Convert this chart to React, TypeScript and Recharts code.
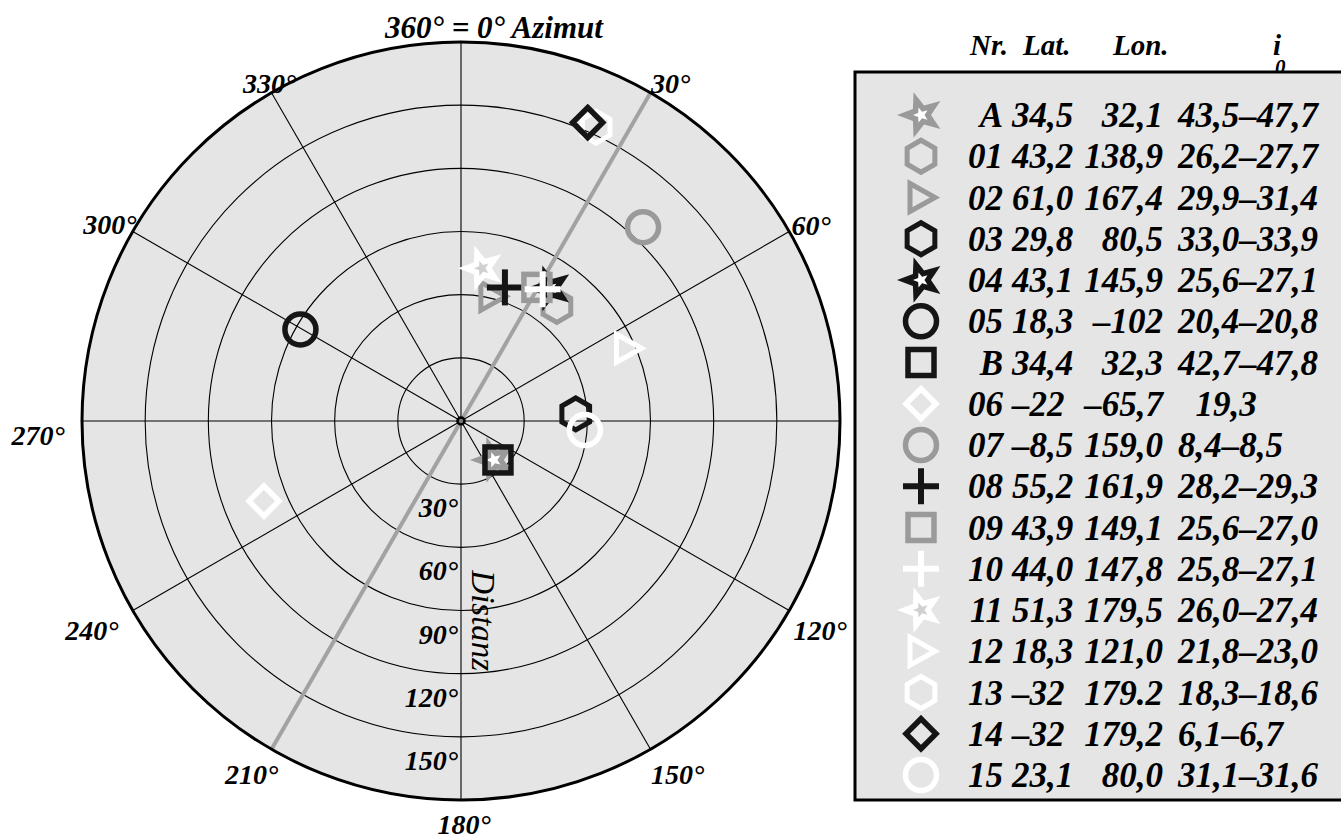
import React from 'react'
import {
  RadarChart,
  PolarGrid,
  PolarAngleAxis,
  PolarRadiusAxis,
  Radar,
} from 'recharts'

// station list (legend order = drawing order)
const ids = ['A', '01', '02', '03', '04', '05', 'B', '06', '07', '08', '09', '10', '11', '12', '13', '14', '15']
const lat = ['34,5', '43,2', '61,0', '29,8', '43,1', '18,3', '34,4', '–22', '–8,5', '55,2', '43,9', '44,0', '51,3', '18,3', '–32', '–32', '23,1']
const lon = ['32,1', '138,9', '167,4', '80,5', '145,9', '–102', '32,3', '–65,7', '159,0', '161,9', '149,1', '147,8', '179,5', '121,0', '179.2', '179,2', '80,0']
const incl = ['43,5–47,7', '26,2–27,7', '29,9–31,4', '33,0–33,9', '25,6–27,1', '20,4–20,8', '42,7–47,8', '\u200719,3', '8,4–8,5', '28,2–29,3', '25,6–27,0', '25,8–27,1', '26,0–27,4', '21,8–23,0', '18,3–18,6', '6,1–6,7', '31,1–31,6']

// azimuth (deg, clockwise from north) and distance (deg)
const azimuth = [139.8, 39.9, 13.9, 86.5, 33.8, 299.7, 136.5, 247.9, 43.2, 18.2, 29.6, 31.8, 7.8, 66.4, 24.7, 23.0, 94.2]
const distance = [24.2, 71.0, 61.0, 54.6, 75.8, 87.8, 25.5, 101.0, 126.3, 66.8, 73.0, 73.6, 73.2, 86.3, 153.6, 154.0, 59.0]

const shapes = ['star', 'hexagon', 'triangle', 'hexagon', 'star', 'circle', 'square', 'diamond', 'circle', 'plus', 'square', 'plus', 'star', 'triangle', 'hexagon', 'diamond', 'circle']
const tones = ['gray', 'gray', 'gray', 'black', 'black', 'black', 'black', 'white', 'gray', 'black', 'gray', 'white', 'white', 'white', 'white', 'black', 'white']

const azTicks = [0, 30, 60, 90, 120, 150, 180, 210, 240, 270, 300, 330]
const distTicks = [0, 30, 60, 90, 120, 150, 180]

const points = ids.map((id, i) => ({
  id,
  az: azimuth[i],
  dist: distance[i],
  shape: shapes[i],
  tone: tones[i],
}))

const CX = 461
const CY = 421
const R = 379
const FONT = "'Liberation Serif', 'DejaVu Serif', serif"

const COLOR: Record<string, string> = {
  black: '#151515',
  gray: '#9a9a9a',
  white: '#ffffff',
}

// label centre offsets from the rim point of each azimuth tick
// (90° sits under the legend box in the original, so it has no label)
const azLabelOffset: Record<number, [number, number]> = {
  0: [33, -15],
  30: [20, -10],
  60: [22, -6],
  120: [31, 20],
  150: [27, 25],
  180: [3, 24],
  210: [-20, 25],
  240: [-41, 20],
  270: [-44, 14],
  300: [-23, -7],
  330: [-2, -10],
}

const starPoints = (x: number, y: number, ro: number, ri: number) => {
  const pts: string[] = []
  for (let k = 0; k < 10; k++) {
    const a = ((180 + k * 36) * Math.PI) / 180
    const rr = k % 2 === 0 ? ro : ri
    pts.push(`${x + rr * Math.cos(a)},${y + rr * Math.sin(a)}`)
  }
  return pts.join(' ')
}

const Marker = ({ shape, tone, x, y }: { shape: string; tone: string; x: number; y: number }) => {
  const c = COLOR[tone]
  const sw = 5.5
  if (shape === 'star') {
    return (
      <g>
        <polygon points={starPoints(x, y, 24, 10)} fill={c} />
        <polygon points={starPoints(x, y, 8, 3.5)} fill={tone === 'white' ? '#d0d0d0' : '#ffffff'} />
      </g>
    )
  }
  if (shape === 'hexagon') {
    const pts = [0, 1, 2, 3, 4, 5]
      .map((k) => {
        const a = ((-90 + k * 60) * Math.PI) / 180
        return `${x + 16 * Math.cos(a)},${y + 16 * Math.sin(a)}`
      })
      .join(' ')
    return <polygon points={pts} fill='none' stroke={c} strokeWidth={5} />
  }
  if (shape === 'triangle') {
    return (
      <polygon
        points={`${x - 11},${y - 14} ${x + 14},${y} ${x - 11},${y + 14}`}
        fill='none'
        stroke={c}
        strokeWidth={5}
      />
    )
  }
  if (shape === 'circle') {
    return <circle cx={x} cy={y} r={15.5} fill='none' stroke={c} strokeWidth={sw} />
  }
  if (shape === 'square') {
    return <rect x={x - 13} y={y - 13} width={26} height={26} fill='none' stroke={c} strokeWidth={sw} />
  }
  if (shape === 'diamond') {
    return (
      <polygon
        points={`${x},${y - 15} ${x + 15},${y} ${x},${y + 15} ${x - 15},${y}`}
        fill='none'
        stroke={c}
        strokeWidth={sw}
      />
    )
  }
  // plus
  return (
    <g stroke={c} strokeWidth={6}>
      <line x1={x - 18} y1={y} x2={x + 18} y2={y} />
      <line x1={x} y1={y - 18} x2={x} y2={y + 18} />
    </g>
  )
}

const renderDot = (props: any) => {
  const d = props.payload?.payload ?? props.payload
  return <Marker key={`m-${d.id}`} shape={d.shape} tone={d.tone} x={props.cx} y={props.cy} />
}

const AzTick = (props: any) => {
  const v = props.payload.value as number
  const off = azLabelOffset[v]
  if (!off) return <g />
  const a = (v * Math.PI) / 180
  // tick point comes at R + 8, pull back to the rim
  const rx = props.x - 8 * Math.sin(a)
  const ry = props.y + 8 * Math.cos(a)
  const text = v === 0 ? '360° = 0° Azimut' : `${v}°`
  return (
    <text
      x={rx + off[0]}
      y={ry + off[1]}
      dy='0.35em'
      textAnchor='middle'
      fontFamily={FONT}
      fontStyle='italic'
      fontWeight='bold'
      fontSize={v === 0 ? 31 : 28}
      fill='#000'
    >
      {text}
    </text>
  )
}

const DistTick = (props: any) => {
  const v = props.payload.value as number
  const { x, y } = props
  if (v === 0) {
    return <circle cx={x} cy={y} r={3.5} fill='#777' stroke='#000' strokeWidth={2.5} />
  }
  if (v === 180) return <g />
  return (
    <g>
      <text
        x={x - 3}
        y={y + 33}
        textAnchor='end'
        fontFamily={FONT}
        fontStyle='italic'
        fontWeight='bold'
        fontSize={28}
        fill='#000'
      >
        {`${v}°`}
      </text>
      {v === 60 && (
        <text
          x={x + 11}
          y={y + 23}
          transform={`rotate(90, ${x + 11}, ${y + 23})`}
          fontFamily={FONT}
          fontStyle='italic'
          fontSize={33}
          fill='#000'
        >
          Distanz
        </text>
      )}
    </g>
  )
}

const LegendTable = () => {
  const rowY = (i: number) => 115 + i * 41.25
  const ox = 848
  const txt = {
    fontFamily: FONT,
    fontStyle: 'italic' as const,
    fontWeight: 'bold' as const,
    fill: '#000',
  }
  return (
    <svg
      width={493}
      height={840}
      style={{ position: 'absolute', left: ox, top: 0 }}
    >
      <g {...txt} fontSize={29}>
        <text x={122} y={55}>Nr.</text>
        <text x={175} y={55}>Lat.</text>
        <text x={265} y={55}>Lon.</text>
        <text x={425} y={55}>i</text>
        <text x={427} y={74} fontSize={21}>0</text>
      </g>
      <rect x={7} y={72} width={520} height={728} fill='#e5e5e5' stroke='#000' strokeWidth={3} />
      {ids.map((id, i) => (
        <g key={id}>
          <Marker shape={shapes[i]} tone={tones[i]} x={73} y={rowY(i)} />
          <g {...txt} fontSize={35}>
            <text x={155} y={rowY(i) + 12} textAnchor='end'>{id}</text>
            <text x={164} y={rowY(i) + 12}>{lat[i]}</text>
            <text x={315} y={rowY(i) + 12} textAnchor='end'>{lon[i]}</text>
            <text x={330} y={rowY(i) + 12} style={{ whiteSpace: 'pre' }}>{incl[i]}</text>
          </g>
        </g>
      ))}
    </svg>
  )
}

const App = () => {
  return (
    <div
      style={{
        position: 'fixed',
        left: 0,
        top: 0,
        width: 1341,
        height: 840,
        background: '#fff',
        overflow: 'hidden',
      }}
    >
      <div
        style={{
          position: 'absolute',
          left: CX - R,
          top: CY - R,
          width: R * 2,
          height: R * 2,
          borderRadius: '50%',
          background: '#e5e5e5',
        }}
      />
      <div style={{ position: 'absolute', left: 0, top: 0 }}>
        <RadarChart
          width={860}
          height={840}
          data={points}
          cx={CX}
          cy={CY}
          outerRadius={R}
          startAngle={90}
          endAngle={-270}
          margin={{ top: 0, right: 0, bottom: 0, left: 0 }}
        >
          <PolarGrid gridType='circle' stroke='#000' strokeWidth={1.1} />
          <PolarGrid
            gridType='circle'
            polarAngles={[60, -120]}
            polarRadius={[0]}
            stroke='#a2a2a2'
            strokeWidth={4}
          />
          <PolarAngleAxis
            dataKey='az'
            type='number'
            domain={[0, 360]}
            ticks={azTicks}
            tick={AzTick}
            tickLine={false}
            axisLine={{ stroke: '#000', strokeWidth: 3 }}
            axisLineType='circle'
          />
          <PolarRadiusAxis
            angle={-90}
            type='number'
            domain={[0, 180]}
            ticks={distTicks}
            tick={DistTick}
            axisLine={false}
            tickLine={false}
          />
          <Radar
            dataKey='dist'
            stroke='none'
            fill='none'
            fillOpacity={0}
            dot={renderDot}
            isAnimationActive={false}
          />
        </RadarChart>
      </div>
      <LegendTable />
    </div>
  )
}

export default App
